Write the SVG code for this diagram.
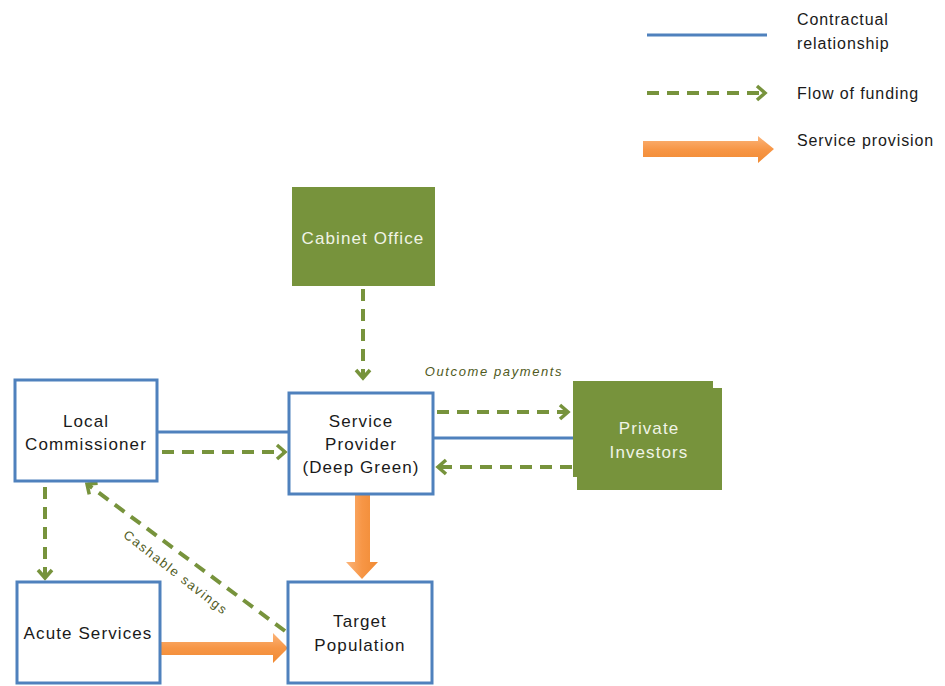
<svg xmlns="http://www.w3.org/2000/svg" width="945" height="686" viewBox="0 0 945 686">
<defs>
<marker id="chev" markerUnits="userSpaceOnUse" markerWidth="14" markerHeight="16" refX="10" refY="7" orient="auto" overflow="visible">
<path d="M2,0 L10,7 L2,14" fill="none" stroke="#77933c" stroke-width="3.5"/>
</marker>
<linearGradient id="og" x1="0" y1="0" x2="0" y2="1">
<stop offset="0" stop-color="#fbb47a"/>
<stop offset="0.5" stop-color="#f79646"/>
<stop offset="1" stop-color="#f08a33"/>
</linearGradient>
<linearGradient id="ogv" x1="0" y1="0" x2="1" y2="0">
<stop offset="0" stop-color="#fbb47a"/>
<stop offset="0.5" stop-color="#f79646"/>
<stop offset="1" stop-color="#f08a33"/>
</linearGradient>
</defs>
<style>
.box{fill:#ffffff;stroke:#4f81bd;stroke-width:3}
.gbox{fill:#77933c}
.t{font-family:"Liberation Sans",Arial,sans-serif;font-size:17px;fill:#1a1a1a;text-anchor:middle;letter-spacing:1.1px}
.wt{font-family:"Liberation Sans",Arial,sans-serif;font-size:17px;fill:#f0f3e6;text-anchor:middle;letter-spacing:1.1px}
.lg{font-family:"Liberation Sans",Arial,sans-serif;font-size:16px;fill:#1a1a1a;letter-spacing:0.9px}
.lab{font-family:"Liberation Sans",Arial,sans-serif;font-size:13px;fill:#4f5a22;letter-spacing:1.6px}
.blue{stroke:#4f81bd;stroke-width:3;fill:none}
.fund{stroke:#77933c;stroke-width:4;fill:none;stroke-dasharray:12 8;marker-end:url(#chev)}
</style>

<g id="legend">
<line class="blue" x1="647" y1="35" x2="767" y2="35"/>
<line class="fund" x1="647" y1="93" x2="765" y2="93"/>
<path d="M643,141 L758,141 L758,136 L774,149 L758,163 L758,157 L643,157 Z" fill="url(#og)"/>
<text class="lg" x="797" y="25">Contractual</text>
<text class="lg" x="797" y="49">relationship</text>
<text class="lg" x="797" y="99">Flow of funding</text>
<text class="lg" x="797" y="146">Service provision</text>
</g>

<g id="connectors">
<line class="blue" x1="157" y1="432" x2="289" y2="432"/>
<line class="fund" x1="162" y1="452" x2="285" y2="452"/>
<line class="fund" x1="363" y1="289" x2="363" y2="378"/>
<line class="fund" x1="437" y1="412" x2="568" y2="412"/>
<line class="blue" x1="433" y1="438" x2="574" y2="438"/>
<line class="fund" x1="572" y1="467" x2="438" y2="467"/>
<line class="fund" x1="45" y1="487" x2="45" y2="578"/>
<line class="fund" x1="285" y1="631" x2="87" y2="484"/>
<path d="M355,495 L370,495 L370,562 L378,562 L362,579 L346,562 L355,562 Z" fill="url(#ogv)"/>
<path d="M160,642 L273,642 L273,633 L288,648 L273,663 L273,655 L160,655 Z" fill="url(#og)"/>
<text class="lab" x="494" y="376" text-anchor="middle" font-style="italic">Outcome payments</text>
<text class="lab" x="173" y="576" text-anchor="middle" transform="rotate(38 173 576)">Cashable savings</text>
</g>

<g id="cabinet-office">
<rect class="gbox" x="292" y="187" width="143" height="99"/>
<text class="wt" x="363" y="244">Cabinet Office</text>
</g>

<g id="private-investors">
<rect class="gbox" x="573" y="381" width="140" height="96"/>
<rect class="gbox" x="577" y="388" width="145" height="102"/>
<text class="wt" x="649" y="434">Private</text>
<text class="wt" x="649" y="458">Investors</text>
</g>

<g id="local-commissioner">
<rect class="box" x="15" y="380" width="142" height="101"/>
<text class="t" x="86" y="427">Local</text>
<text class="t" x="86" y="450">Commissioner</text>
</g>

<g id="service-provider">
<rect class="box" x="289" y="393" width="144" height="101"/>
<text class="t" x="361" y="427">Service</text>
<text class="t" x="361" y="450">Provider</text>
<text class="t" x="361" y="473">(Deep Green)</text>
</g>

<g id="acute-services">
<rect class="box" x="17" y="582" width="143" height="101"/>
<text class="t" x="88" y="639">Acute Services</text>
</g>

<g id="target-population">
<rect class="box" x="288" y="582" width="144" height="101"/>
<text class="t" x="360" y="627">Target</text>
<text class="t" x="360" y="651">Population</text>
</g>
</svg>
